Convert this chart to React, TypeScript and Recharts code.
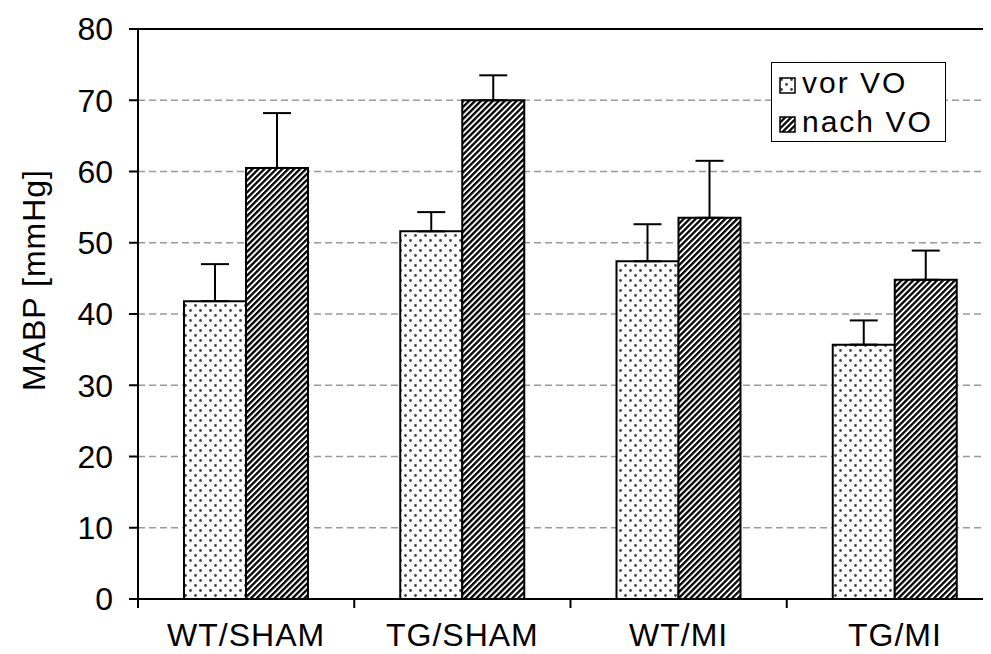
import React from "react";
import {
  BarChart,
  Bar,
  XAxis,
  YAxis,
  CartesianGrid,
  ErrorBar,
  Legend,
  ReferenceLine,
  Label,
} from "recharts";

const categories = ["WT/SHAM", "TG/SHAM", "WT/MI", "TG/MI"];
const vorVO = [41.8, 51.6, 47.4, 35.7];
const vorErr = [5.2, 2.7, 5.2, 3.4];
const nachVO = [60.5, 70.0, 53.5, 44.8];
const nachErr = [7.7, 3.5, 8.0, 4.1];
const yTicks = [0, 10, 20, 30, 40, 50, 60, 70, 80];
const seriesOrder = ["vor", "nach"];

const data = categories.map((category, i) => ({
  category,
  vor: vorVO[i],
  vorE: [0, vorErr[i]],
  nach: nachVO[i],
  nachE: [0, nachErr[i]],
}));

const FONT = "'Liberation Sans', Arial, Helvetica, sans-serif";
const CHART_W = 1010;
const CHART_H = 646;
const Y_W = 130;
const M_RIGHT = 15;
const PLOT_BOTTOM = 591;
const CAT_W = (CHART_W - Y_W - M_RIGHT) / categories.length;

const fills: Record<string, string> = {
  vor: "url(#dotsPat)",
  nach: "url(#stripePat)",
};

const XTick = ({ x, payload }: any) => (
  <g>
    <line
      x1={x - CAT_W / 2}
      y1={PLOT_BOTTOM}
      x2={x - CAT_W / 2}
      y2={PLOT_BOTTOM + 9}
      stroke="#000"
      strokeWidth={2}
    />
    <text
      x={x}
      y={PLOT_BOTTOM + 47}
      textAnchor="middle"
      fill="#000"
      fontSize={32}
      letterSpacing={1}
      fontFamily={FONT}
    >
      {payload.value}
    </text>
  </g>
);

const renderLegend = ({ payload }: any) => {
  const items = [...(payload || [])].sort(
    (a: any, b: any) => seriesOrder.indexOf(a.dataKey) - seriesOrder.indexOf(b.dataKey)
  );
  return (
    <div
      style={{
        border: "1.5px solid #000",
        background: "#fff",
        padding: "0 8px 0 7px",
        fontFamily: FONT,
        fontSize: 30,
        letterSpacing: 2,
        lineHeight: "39px",
        color: "#000",
        textAlign: "left",
      }}
    >
      {items.map((p: any) => (
        <div key={p.dataKey} style={{ display: "flex", alignItems: "center" }}>
          <svg width={17} height={17} style={{ marginRight: 6, marginTop: 5 }}>
            <rect
              x={1}
              y={1}
              width={15}
              height={15}
              fill={fills[p.dataKey]}
              stroke="#000"
              strokeWidth={1.5}
            />
          </svg>
          <span>{p.value}</span>
        </div>
      ))}
    </div>
  );
};

const renderYLabel = () => (
  <text
    x={37}
    y={272}
    transform="rotate(-90 37 272)"
    textAnchor="middle"
    fill="#000"
    fontSize={32}
    letterSpacing={1}
    fontFamily={FONT}
  >
    MABP [mmHg]
  </text>
);

export default function App() {
  return (
    <div
      style={{
        width: 983,
        height: CHART_H,
        overflow: "hidden",
        marginBottom: -8,
      }}
    >
      <BarChart
        width={CHART_W}
        height={CHART_H}
        data={data}
        margin={{ top: 21, right: M_RIGHT, left: 0, bottom: 0 }}
        barSize={62}
        barGap={0}
      >
        <defs>
          <pattern
            id="dotsPat"
            patternUnits="userSpaceOnUse"
            width={10}
            height={10}
          >
            <rect width={10} height={10} fill="#fff" />
            <circle cx={2.5} cy={2.5} r={1.4} fill="#444" />
            <circle cx={7.5} cy={7.5} r={1.4} fill="#444" />
          </pattern>
          <pattern
            id="stripePat"
            patternUnits="userSpaceOnUse"
            width={4.2}
            height={4.2}
            patternTransform="rotate(45)"
          >
            <rect width={4.2} height={4.2} fill="#fff" />
            <rect width={2.3} height={4.2} fill="#000" />
          </pattern>
        </defs>
        <CartesianGrid
          vertical={false}
          stroke="#999"
          strokeWidth={1.5}
          strokeDasharray="7 4"
        />
        <XAxis
          dataKey="category"
          height={CHART_H - PLOT_BOTTOM}
          axisLine={{ stroke: "#000", strokeWidth: 2 }}
          tickLine={false}
          tickSize={0}
          tickMargin={0}
          tick={<XTick />}
          interval={0}
        />
        <YAxis
          width={Y_W}
          domain={[0, 80]}
          ticks={yTicks}
          interval={0}
          axisLine={{ stroke: "#000", strokeWidth: 2 }}
          tickLine={{ stroke: "#000", strokeWidth: 2 }}
          tickSize={9}
          tickMargin={16}
          tick={{ fill: "#000", fontSize: 32, fontFamily: FONT }}
          label={<Label content={renderYLabel} />}
        />
        <ReferenceLine y={80} stroke="#000" strokeWidth={2} />
        <Legend
          content={renderLegend}
          layout="horizontal"
          verticalAlign="middle"
          align="center"
          wrapperStyle={{ left: 763, top: 54, width: 175 }}
        />
        <Bar
          dataKey="vor"
          name="vor VO"
          fill="url(#dotsPat)"
          stroke="#000"
          strokeWidth={2}
          isAnimationActive={false}
        >
          <ErrorBar dataKey="vorE" width={14} stroke="#000" strokeWidth={2} />
        </Bar>
        <Bar
          dataKey="nach"
          name="nach VO"
          fill="url(#stripePat)"
          stroke="#000"
          strokeWidth={2}
          isAnimationActive={false}
        >
          <ErrorBar dataKey="nachE" width={14} stroke="#000" strokeWidth={2} />
        </Bar>
      </BarChart>
    </div>
  );
}
